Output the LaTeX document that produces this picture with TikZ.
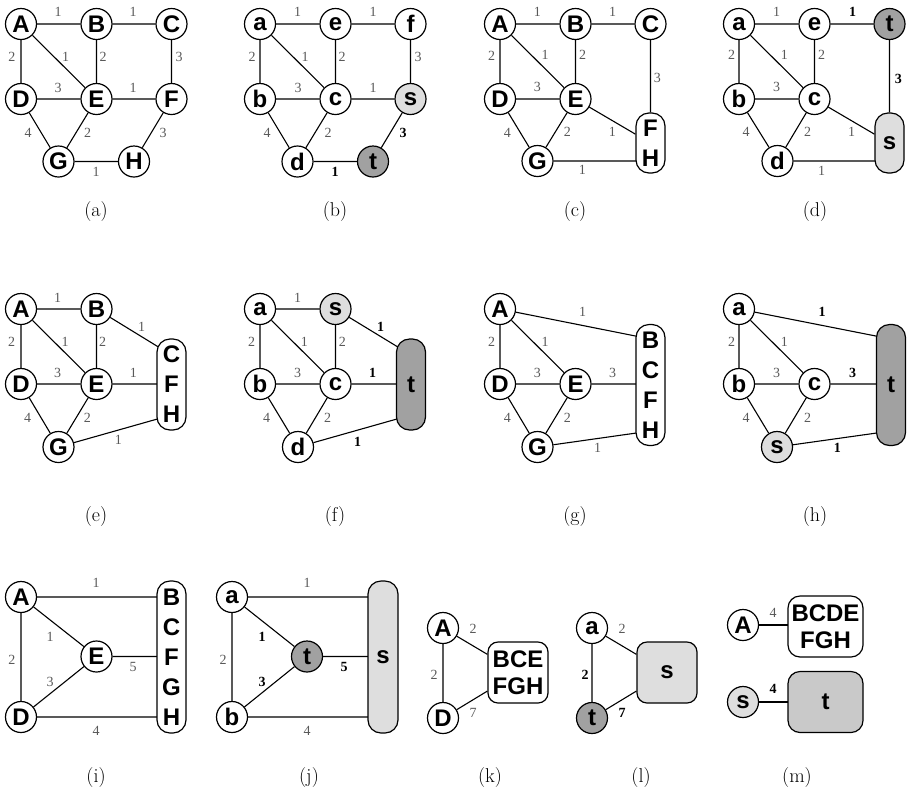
\documentclass[tikz,border=0pt]{standalone}
\usepackage{fontspec}
\newfontfamily\sansbold{Liberation Sans}
\newfontfamily\serifl{Liberation Serif}
\newcommand\vtxt{\sansbold\bfseries\fontsize{24}{30}\selectfont}
\newcommand\vtxtw{\sansbold\bfseries\fontsize{24}{27.5}\selectfont}
\newcommand\lbfont{\serifl\fontsize{14}{15}\selectfont}
\newcommand\capfont{\fontsize{20}{24}\selectfont}
\definecolor{sfill}{gray}{0.87}
\definecolor{tfill}{gray}{0.63}
\definecolor{mfill}{gray}{0.79}
\definecolor{lgray}{gray}{0.35}
\pgfdeclarelayer{bg}\pgfsetlayers{bg,main}
\tikzset{
  vx/.style={circle, draw, line width=1.2pt, fill=white, minimum size=31pt, inner sep=0pt, font=\vtxt},
  sv/.style={vx, fill=sfill},
  tv/.style={vx, fill=tfill},
  bx/.style={draw, line width=1.2pt, fill=white, rounded corners=13pt, inner sep=0pt, align=center, font=\vtxt, minimum width=29pt},
  wbx/.style={draw, line width=1.2pt, fill=white, rounded corners=10pt, inner sep=0pt, align=center, font=\vtxtw},
  ed/.style={line width=1.1pt},
  lb/.style={font=\lbfont, text=lgray, inner sep=0pt},
  lbb/.style={font=\lbfont\bfseries, text=black, inner sep=0pt},
  capt/.style={font=\capfont, inner sep=0pt}
}
\begin{document}
\begin{tikzpicture}[x=1pt,y=-1pt]
\useasboundingbox (0,0) rectangle (909,796);

% ---------- (a)
\begin{scope}
\node[vx] (aA) at (21,24) {A};
\node[vx] (aB) at (96.5,24) {B};
\node[vx] (aC) at (171.5,24) {C};
\node[vx] (aD) at (21,99) {D};
\node[vx] (aE) at (96.5,99) {E};
\node[vx] (aF) at (171.5,99) {F};
\node[vx] (aG) at (58.5,161.5) {G};
\node[vx] (aH) at (134,161.5) {H};
\begin{pgfonlayer}{bg}
\draw[ed] (aA)--(aB) (aB)--(aC) (aA)--(aD) (aA)--(aE) (aB)--(aE) (aC)--(aF)
  (aD)--(aE) (aE)--(aF) (aD)--(aG) (aE)--(aG) (aF)--(aH) (aG)--(aH);
\end{pgfonlayer}
\node[lb] (la1) at (58,12) {1};
\node[lb] (la2) at (133,12) {1};
\node[lb] (la3) at (12,57) {2};
\node[lb] (la4) at (65.5,57) {1};
\node[lb] (la5) at (103,57) {2};
\node[lb] (la6) at (179,57) {3};
\node[lb] (la7) at (58,88) {3};
\node[lb] (la8) at (133,88) {1};
\node[lb] (la9) at (28,133) {4};
\node[lb] (la10) at (87.5,133) {2};
\node[lb] (la11) at (163,133) {3};
\node[lb] (la12) at (96,171.5) {1};
\node[capt] (capa) at (96,212) {(a)};
\end{scope}

% ---------- (b)
\begin{scope}[shift={(239,0)}]
\node[vx] (ba) at (21,24) {a};
\node[vx] (be) at (96.5,24) {e};
\node[vx] (bf) at (171.5,24) {f};
\node[vx] (bb) at (21,99) {b};
\node[vx] (bc) at (96.5,99) {c};
\node[sv] (bs) at (171.5,99) {s};
\node[vx] (bd) at (58.5,161.5) {d};
\node[tv] (bt) at (134,161.5) {t};
\begin{pgfonlayer}{bg}
\draw[ed] (ba)--(be) (be)--(bf) (ba)--(bb) (ba)--(bc) (be)--(bc) (bf)--(bs)
  (bb)--(bc) (bc)--(bs) (bb)--(bd) (bc)--(bd) (bs)--(bt) (bd)--(bt);
\end{pgfonlayer}
\node[lb] (lb1) at (58.5,12) {1};
\node[lb] (lb2) at (134,12) {1};
\node[lb] (lb3) at (13,57) {2};
\node[lb] (lb4) at (66,57) {1};
\node[lb] (lb5) at (103,57) {2};
\node[lb] (lb6) at (179,57) {3};
\node[lb] (lb7) at (59,88) {3};
\node[lb] (lb8) at (134,88) {1};
\node[lb] (lb9) at (28,133) {4};
\node[lb] (lb10) at (89,133) {2};
\node[lbb] (lb11) at (164,133) {3};
\node[lbb] (lb12) at (96,171.5) {1};
\node[capt] (capb) at (96,212) {(b)};
\end{scope}

% ---------- (c)
\begin{scope}[shift={(479,0)}]
\node[vx] (cA) at (21,24) {A};
\node[vx] (cB) at (96.5,24) {B};
\node[vx] (cC) at (171.5,24) {C};
\node[vx] (cD) at (21,99) {D};
\node[vx] (cE) at (96.5,99) {E};
\node[vx] (cG) at (58.5,161) {G};
\node[bx, minimum height=60pt] (cFH) at (171.5,143) {F\\H};
\begin{pgfonlayer}{bg}
\draw[ed] (cA)--(cB) (cB)--(cC) (cA)--(cD) (cA)--(cE) (cB)--(cE) (cC)--(cFH)
  (cD)--(cE) (cE)--(cFH) (cD)--(cG) (cE)--(cG) (cG)--(cG -| cFH.center);
\end{pgfonlayer}
\node[lb] (lc1) at (58.3,11.7) {1};
\node[lb] (lc2) at (133.7,11.7) {1};
\node[lb] (lc3) at (12.7,56) {2};
\node[lb] (lc4) at (66,55) {1};
\node[lb] (lc5) at (103.7,55) {2};
\node[lb] (lc6) at (178.3,78.3) {3};
\node[lb] (lc7) at (58.3,87.3) {3};
\node[lb] (lc8) at (133.3,131.7) {1};
\node[lb] (lc9) at (28.3,132.7) {4};
\node[lb] (lc10) at (88.3,131.7) {2};
\node[lb] (lc11) at (103.3,170) {1};
\node[capt] (capc) at (96,212) {(c)};
\end{scope}

% ---------- (d)
\begin{scope}[shift={(718,0)}]
\node[vx] (da) at (21,24) {a};
\node[vx] (de) at (96.5,24) {e};
\node[tv] (dt) at (171.5,24) {t};
\node[vx] (db) at (21,99) {b};
\node[vx] (dc) at (96.5,99) {c};
\node[vx] (dd) at (59.5,161) {d};
\node[bx, fill=sfill, minimum height=60pt] (ds) at (171.5,143) {s};
\begin{pgfonlayer}{bg}
\draw[ed] (da)--(de) (de)--(dt) (da)--(db) (da)--(dc) (de)--(dc) (dt)--(ds)
  (db)--(dc) (dc)--(ds) (db)--(dd) (dc)--(dd) (dd)--(dd -| ds.center);
\end{pgfonlayer}
\node[lb] (ld1) at (58.7,11.7) {1};
\node[lbb] (ld2) at (134.7,11.7) {1};
\node[lb] (ld3) at (13.7,55) {2};
\node[lb] (ld4) at (66.3,55) {1};
\node[lb] (ld5) at (103.7,55) {2};
\node[lbb] (ld6) at (180.3,79) {3};
\node[lb] (ld7) at (58.7,87.3) {3};
\node[lb] (ld8) at (133.7,131.7) {1};
\node[lb] (ld9) at (28,131.7) {4};
\node[lb] (ld10) at (89.7,131.7) {2};
\node[lb] (ld11) at (103.7,170.7) {1};
\node[capt] (capd) at (97,212) {(d)};
\end{scope}

% ---------- (e)
\begin{scope}[shift={(0,285)}]
\node[vx] (eA) at (21,24) {A};
\node[vx] (eB) at (96.5,24) {B};
\node[vx] (eD) at (21,99) {D};
\node[vx] (eE) at (96.5,99) {E};
\node[vx] (eG) at (58.5,162) {G};
\node[bx, minimum height=91pt] (eCFH) at (171.5,99.5) {C\\F\\H};
\begin{pgfonlayer}{bg}
\draw[ed] (eA)--(eB) (eA)--(eD) (eA)--(eE) (eB)--(eE) (eD)--(eE) (eD)--(eG) (eE)--(eG)
  (eB)--([yshift=29.5pt]eCFH.center) (eE)--(eE -| eCFH.center) (eG)--([yshift=-30.5pt]eCFH.center);
\end{pgfonlayer}
\node[lb] (le1) at (57.7,12.7) {1};
\node[lb] (le2) at (141.7,41.7) {1};
\node[lb] (le3) at (11.7,56.7) {2};
\node[lb] (le4) at (65,56.7) {1};
\node[lb] (le5) at (102.7,56.7) {2};
\node[lb] (le6) at (57.7,87.7) {3};
\node[lb] (le7) at (133.3,87.7) {1};
\node[lb] (le8) at (27.7,133.3) {4};
\node[lb] (le9) at (87.3,133.3) {2};
\node[lb] (le10) at (118.3,155) {1};
\node[capt] (cape) at (96,231) {(e)};
\end{scope}

% ---------- (f)
\begin{scope}[shift={(239,285)}]
\node[vx] (fa) at (21,24) {a};
\node[sv] (fs) at (96.5,24) {s};
\node[vx] (fb) at (21,99) {b};
\node[vx] (fc) at (96.5,99) {c};
\node[vx] (fd) at (59,162) {d};
\node[bx, fill=tfill, minimum height=91pt] (ft) at (172,99.5) {t};
\begin{pgfonlayer}{bg}
\draw[ed] (fa)--(fs) (fa)--(fb) (fa)--(fc) (fs)--(fc) (fb)--(fc) (fb)--(fd) (fc)--(fd)
  (fs)--([yshift=29.5pt]ft.center) (fc)--(fc -| ft.center) (fd)--([yshift=-30.5pt]ft.center);
\end{pgfonlayer}
\node[lb] (lf1) at (58.7,12.7) {1};
\node[lbb] (lf2) at (141.7,41.7) {1};
\node[lb] (lf3) at (12.7,56.7) {2};
\node[lb] (lf4) at (65.3,56.7) {1};
\node[lb] (lf5) at (103.3,56.7) {2};
\node[lb] (lf6) at (58.7,87.7) {3};
\node[lbb] (lf7) at (133.7,87.7) {1};
\node[lb] (lf8) at (27.7,133.3) {4};
\node[lb] (lf9) at (88.7,133.3) {2};
\node[lbb] (lf10) at (118.7,156.7) {1};
\node[capt] (capf) at (96,231) {(f)};
\end{scope}

% ---------- (g)
\begin{scope}[shift={(479,285)}]
\node[vx] (gA) at (21,24) {A};
\node[vx] (gD) at (21,99) {D};
\node[vx] (gE) at (96.5,99) {E};
\node[vx] (gG) at (58.5,162) {G};
\node[bx, minimum height=121pt] (gBCFH) at (171.5,100) {B\\C\\F\\H};
\begin{pgfonlayer}{bg}
\draw[ed] (gA)--(gD) (gA)--(gE) (gD)--(gE) (gD)--(gG) (gE)--(gG)
  (gA)--([yshift=46pt]gBCFH.center) (gE)--(gE -| gBCFH.center) (gG)--([yshift=-46pt]gBCFH.center);
\end{pgfonlayer}
\node[lb] (lg1) at (103.7,27.3) {1};
\node[lb] (lg2) at (12.7,56.7) {2};
\node[lb] (lg3) at (66,56.7) {1};
\node[lb] (lg4) at (58.3,87.7) {3};
\node[lb] (lg5) at (133.7,87.7) {3};
\node[lb] (lg6) at (28.3,133.3) {4};
\node[lb] (lg7) at (88.3,133.3) {2};
\node[lb] (lg8) at (118.7,163.3) {1};
\node[capt] (capg) at (96,231) {(g)};
\end{scope}

% ---------- (h)
\begin{scope}[shift={(718,285)}]
\node[vx] (ha) at (21,24) {a};
\node[vx] (hb) at (21,99) {b};
\node[vx] (hc) at (96.5,99) {c};
\node[sv] (hs) at (59,162) {s};
\node[bx, fill=tfill, minimum height=121pt] (ht) at (173,100) {t};
\begin{pgfonlayer}{bg}
\draw[ed] (ha)--(hb) (ha)--(hc) (hb)--(hc) (hb)--(hs) (hc)--(hs)
  (ha)--([yshift=46pt]ht.center) (hc)--(hc -| ht.center) (hs)--([yshift=-46pt]ht.center);
\end{pgfonlayer}
\node[lbb] (lh1) at (104,27.3) {1};
\node[lb] (lh2) at (13.7,56.7) {2};
\node[lb] (lh3) at (66.3,56.7) {1};
\node[lb] (lh4) at (58.7,87.7) {3};
\node[lbb] (lh5) at (134.7,87.7) {3};
\node[lb] (lh6) at (28,133.3) {4};
\node[lb] (lh7) at (89.7,133.3) {2};
\node[lbb] (lh8) at (119.3,163.3) {1};
\node[capt] (caph) at (97,231) {(h)};
\end{scope}

% ---------- (i)
\node[vx] (iA) at (21,597) {A};
\node[vx] (iE) at (96.5,656.5) {E};
\node[vx] (iD) at (21,717) {D};
\node[bx, minimum height=152pt] (iB) at (171.5,657) {B\\C\\F\\G\\H};
\begin{pgfonlayer}{bg}
\draw[ed] (iA)--(iD) (iA)--(iE) (iD)--(iE) (iA)--(iA -| iB.center) (iE)--(iE -| iB.center) (iD)--(iD -| iB.center);
\end{pgfonlayer}
\node[lb] (li1) at (96,583) {1};
\node[lb] (li2) at (50,637) {1};
\node[lb] (li3) at (12,660) {2};
\node[lb] (li4) at (133,667) {5};
\node[lb] (li5) at (50,682) {3};
\node[lb] (li6) at (96,731) {4};
\node[capt] (capi) at (96,777) {(i)};

% ---------- (j)
\node[vx] (ja) at (232,597) {a};
\node[tv] (jt) at (307,656.5) {t};
\node[vx] (jb) at (232,717) {b};
\node[bx, fill=sfill, minimum width=30pt, minimum height=152pt] (js) at (383,657) {s};
\begin{pgfonlayer}{bg}
\draw[ed] (ja)--(jb) (ja)--(jt) (jb)--(jt) (ja)--(ja -| js.center) (jt)--(jt -| js.center) (jb)--(jb -| js.center);
\end{pgfonlayer}
\node[lb] (lj1) at (307,583) {1};
\node[lbb] (lj2) at (262,637) {1};
\node[lb] (lj3) at (223,660) {2};
\node[lbb] (lj4) at (344,667) {5};
\node[lbb] (lj5) at (262,682) {3};
\node[lb] (lj6) at (307,731) {4};
\node[capt] (capj) at (309,777) {(j)};

% ---------- (k)
\node[vx] (kA) at (443,628) {A};
\node[vx] (kD) at (443,718) {D};
\node[wbx, minimum width=60pt, minimum height=61pt] (kB) at (518,672.5) {BCE\\FGH};
\begin{pgfonlayer}{bg}
\draw[ed] (kA)--(kD) (kA)--(kB) (kD)--(kB);
\end{pgfonlayer}
\node[lb] (lk1) at (473,629) {2};
\node[lb] (lk2) at (434,675) {2};
\node[lb] (lk3) at (473,713) {7};
\node[capt] (capk) at (490,777) {(k)};

% ---------- (l)
\node[vx] (la) at (592,628) {a};
\node[tv] (lt) at (592,718) {t};
\node[wbx, fill=sfill, minimum width=60pt, minimum height=61pt] (ls) at (667,672.5) {s};
\begin{pgfonlayer}{bg}
\draw[ed] (la)--(lt) (la)--(ls) (lt)--(ls);
\end{pgfonlayer}
\node[lb] (ll1) at (622,629) {2};
\node[lbb] (ll2) at (585,675) {2};
\node[lbb] (ll3) at (622,713) {7};
\node[capt] (capl) at (641,777) {(l)};

% ---------- (m)
\node[vx] (mA) at (743,625) {A};
\node[wbx, rounded corners=12pt, minimum width=75pt, minimum height=61pt] (mB) at (825.5,626.5) {BCDE\\FGH};
\node[sv] (ms) at (743,702) {s};
\node[wbx, rounded corners=12pt, fill=mfill, minimum width=75pt, minimum height=61pt] (mt) at (825.5,702) {t};
\begin{pgfonlayer}{bg}
\draw[ed] (mA)--(mA -| mB.center) (ms)--(ms -| mt.center);
\end{pgfonlayer}
\node[lb] (lm1) at (773,613) {4};
\node[lbb] (lm2) at (773,689) {4};
\node[capt] (capm) at (797,777) {(m)};
\end{tikzpicture}
\end{document}
